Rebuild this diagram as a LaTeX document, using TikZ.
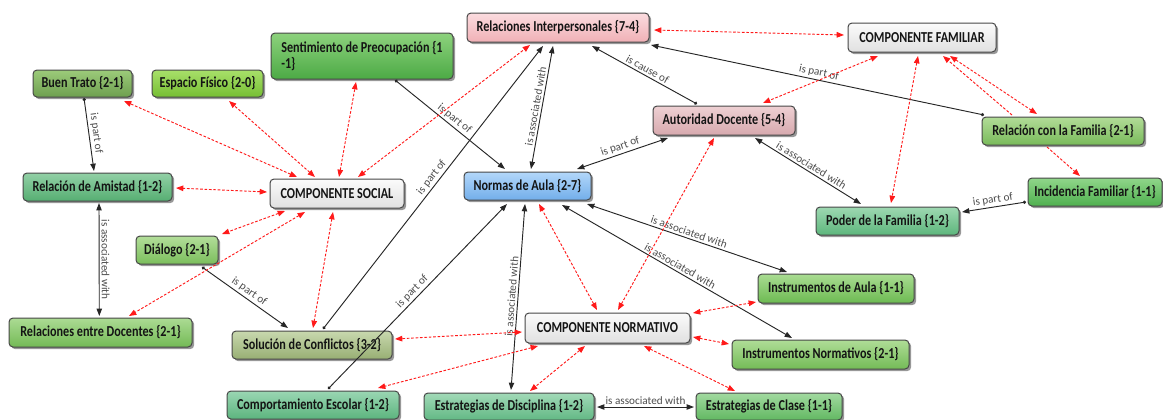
\documentclass[tikz,border=0pt]{standalone}
\usepackage{fontspec}
\setmainfont{Carlito}
\newfontfamily\boxfont{Carlito}[FakeStretch=0.8]
\usetikzlibrary{arrows.meta,calc,shadows}

% box fills: top / bottom of each gradient
\definecolor{relT}{HTML}{FBDCDF}\definecolor{relB}{HTML}{F0B0B6}
\definecolor{autT}{HTML}{EED0D3}\definecolor{autB}{HTML}{D7A9AE}
\definecolor{cmpT}{HTML}{FBFBFB}\definecolor{cmpB}{HTML}{E0E0E0}
\definecolor{norT}{HTML}{B3D7FA}\definecolor{norB}{HTML}{72AEEA}
\definecolor{bueT}{HTML}{9CCB7A}\definecolor{bueB}{HTML}{6E9F4F}
\definecolor{espT}{HTML}{A8E06A}\definecolor{espB}{HTML}{76BE33}
\definecolor{senT}{HTML}{8DD27D}\definecolor{senB}{HTML}{4CAA45}
\definecolor{rcfT}{HTML}{B2DC98}\definecolor{rcfB}{HTML}{79BA5A}
\definecolor{amiT}{HTML}{92D0A6}\definecolor{amiB}{HTML}{56AE72}
\definecolor{incT}{HTML}{90D68A}\definecolor{incB}{HTML}{4FB04F}
\definecolor{podT}{HTML}{9ED8B2}\definecolor{podB}{HTML}{5DB67C}
\definecolor{diaT}{HTML}{B3DE9A}\definecolor{diaB}{HTML}{7BBE5C}
\definecolor{insT}{HTML}{A9DC92}\definecolor{insB}{HTML}{6DBA52}
\definecolor{rdoT}{HTML}{ACDB94}\definecolor{rdoB}{HTML}{73BA55}
\definecolor{solT}{HTML}{C8D8AE}\definecolor{solB}{HTML}{98AF74}
\definecolor{innT}{HTML}{AFDD97}\definecolor{innB}{HTML}{74BB57}
\definecolor{comT}{HTML}{9AD6B3}\definecolor{comB}{HTML}{5CB47E}
\definecolor{ediT}{HTML}{A2DAB8}\definecolor{ediB}{HTML}{62B884}
\definecolor{eclT}{HTML}{A2DAA0}\definecolor{eclB}{HTML}{62B862}
\definecolor{lblgray}{HTML}{4D4D4D}
\definecolor{linkred}{HTML}{FF1A1A}

\begin{document}
\begin{tikzpicture}[x=0.75pt,y=-0.75pt,
  box/.style={draw=black!72, line width=0.75pt, rounded corners=3pt, inner sep=2pt,
    font=\boxfont\bfseries\fontsize{11.4}{12}\selectfont, text=black!92,
    drop shadow={shadow xshift=1.6pt, shadow yshift=-1.6pt, opacity=0.5, fill=black!80}},
  fillc/.style 2 args={top color=#1, bottom color=#2},
  sz/.style 2 args={minimum width=#1*0.75pt, minimum height=#2*0.75pt},
  lbl/.style={font=\fontsize{8.4}{9}\selectfont, text=lblgray, inner sep=1.5pt, sloped},
  part/.style={draw=black!85, line width=0.7pt,
    arrows={Circle[length=2.4pt]-Triangle[length=5.5pt,width=4pt]}},
  assoc/.style={draw=black!85, line width=0.7pt,
    arrows={Triangle[length=5.5pt,width=4pt]-Triangle[length=5.5pt,width=4pt]}},
  rdd/.style={draw=linkred, line width=0.7pt, dash pattern=on 2pt off 1.3pt,
    arrows={Triangle[length=5.5pt,width=4.2pt]-Triangle[length=5.5pt,width=4.2pt]}},
  rd1/.style={draw=linkred, line width=0.7pt, dash pattern=on 2pt off 1.3pt,
    arrows={-Triangle[length=5.5pt,width=4.2pt]}}
]
\fill[white] (0,0) rectangle (1163,419);
\useasboundingbox (0,0) rectangle (1163,419);

% ---- concept boxes ----
\node[box, fillc={relT}{relB}, sz={182}{29}] (rel) at (558,27.5) {Relaciones Interpersonales \{7-4\}};
\node[box, fillc={cmpT}{cmpB}, sz={148}{29}] (fam) at (922,37.5) {COMPONENTE FAMILIAR};
\node[box, fillc={senT}{senB}, sz={182}{46}, align=left] (sen) at (362,56) {Sentimiento de Preocupación \{1\\-1\}};
\node[box, fillc={bueT}{bueB}, sz={99}{27}] (bue) at (82.5,83.5) {Buen Trato \{2-1\}};
\node[box, fillc={espT}{espB}, sz={111}{27}] (esp) at (207.5,83.5) {Espacio Físico \{2-0\}};
\node[box, fillc={autT}{autB}, sz={142}{29}] (aut) at (724,120.5) {Autoridad Docente \{5-4\}};
\node[box, fillc={rcfT}{rcfB}, sz={162}{28}] (rcf) at (1063,131) {Relación con la Familia \{2-1\}};
\node[box, fillc={amiT}{amiB}, sz={149}{28}] (ami) at (97.5,187) {Relación de Amistad \{1-2\}};
\node[box, fillc={cmpT}{cmpB}, sz={134}{29}] (soc) at (337,193.5) {COMPONENTE SOCIAL};
\node[box, fillc={norT}{norB}, sz={127}{28}] (nor) at (527.5,186) {Normas de Aula \{2-7\}};
\node[box, fillc={incT}{incB}, sz={134}{28}] (inc) at (1095,192) {Incidencia Familiar \{1-1\}};
\node[box, fillc={podT}{podB}, sz={143}{28}] (pod) at (887.5,221) {Poder de la Familia \{1-2\}};
\node[box, fillc={diaT}{diaB}, sz={82}{28}] (dia) at (177,250) {Diálogo \{2-1\}};
\node[box, fillc={insT}{insB}, sz={156}{29}] (ins) at (836,288.5) {Instrumentos de Aula \{1-1\}};
\node[box, fillc={rdoT}{rdoB}, sz={183}{29}] (rdo) at (100.5,332.5) {Relaciones entre Docentes \{2-1\}};
\node[box, fillc={solT}{solB}, sz={160}{28}] (sol) at (312,345) {Solución de Conflictos \{3-2\}};
\node[box, fillc={cmpT}{cmpB}, sz={165}{30}] (cno) at (607.5,328) {COMPONENTE NORMATIVO};
\node[box, fillc={innT}{innB}, sz={177}{29}] (inn) at (820.5,354.5) {Instrumentos Normativos \{2-1\}};
\node[box, fillc={comT}{comB}, sz={172}{28}] (com) at (313,405) {Comportamiento Escolar \{1-2\}};
\node[box, fillc={ediT}{ediB}, sz={170}{27}] (edi) at (509,406.5) {Estrategias de Disciplina \{1-2\}};
\node[box, fillc={eclT}{eclB}, sz={146}{27}] (ecl) at (769,406.5) {Estrategias de Clase \{1-1\}};

% ---- labelled links ----
\draw[part] ($(bue)+(1.5,14.5)$) -- node[lbl, above] {is part of} ($(ami)+(-3.5,-16)$);
\draw[assoc] ($(ami)+(1.5,16)$) -- node[lbl, above] {is associated with} ($(rdo)+(-1.2,-16.5)$);
\draw[part] ($(sen)+(33,24)$) -- node[lbl, above] {is part of} ($(nor)+(-22.5,-17)$);
\draw[part] ($(sol)+(11,-16)$) -- node[lbl, above, pos=0.52] {is part of} ($(rel)+(-15,18.5)$);
\draw[part] ($(com)+(15,-16)$) -- node[lbl, above] {is part of} ($(nor)+(-20.5,18)$);
\draw[assoc] ($(nor)+(3.5,-17)$) -- node[lbl, above] {is associated with} ($(rel)+(-5,18.5)$);
\draw[part] ($(aut)+(-27,-16.5)$) -- node[lbl, above] {is cause of} ($(rel)+(34,18.5)$);
\draw[part] ($(rcf)+(-79,-16)$) -- node[lbl, above] {is part of} ($(rel)+(93,17.5)$);
\draw[assoc] ($(nor)+(49.5,-17)$) -- node[lbl, above] {is part of} ($(aut)+(-56,17.5)$);
\draw[assoc] ($(aut)+(31,17.5)$) -- node[lbl, above] {is associated with} ($(pod)+(-26.5,-17)$);
\draw[part] ($(inc)+(-69,10)$) -- node[lbl, above] {is part of} ($(pod)+(74.5,-9)$);
\draw[part] ($(dia)+(25,17)$) -- node[lbl, above] {is part of} ($(sol)+(-24,-17)$);
\draw[assoc] ($(nor)+(59.5,18)$) -- node[lbl, above] {is associated with} ($(ins)+(-49,-16.5)$);
\draw[assoc] ($(nor)+(34.5,19)$) -- node[lbl, above] {is associated with} ($(inn)+(-28.5,-16.5)$);
\draw[assoc] ($(edi)+(2,-16.5)$) -- node[lbl, above] {is associated with} ($(nor)+(-2.5,18)$);
\draw[assoc] ($(edi)+(88,0.5)$) -- node[lbl, above] {is associated with} ($(ecl)+(-75,0.5)$);

% ---- component links ----
\draw[rdd] ($(soc)+(-40,-16.5)$) -- ($(bue)+(41.5,17.5)$);
\draw[rdd] ($(soc)+(-22,-16.5)$) -- ($(esp)+(21.5,17.5)$);
\draw[rdd] ($(soc)+(2,-16.5)$) -- ($(sen)+(-6,26)$);
\draw[rdd] ($(soc)+(21,-16.5)$) -- ($(rel)+(-28,17.5)$);
\draw[rdd] ($(soc)+(-70,-1.5)$) -- ($(ami)+(78.5,1)$);
\draw[rdd] ($(soc)+(-52,17.5)$) -- ($(dia)+(45,-16)$);
\draw[rdd] ($(soc)+(-32,18.5)$) -- ($(rdo)+(28.5,-16.5)$);
\draw[rdd] ($(soc)+(-4,18.5)$) -- ($(sol)+(1,-17)$);
\draw[rdd] ($(cno)+(-85.5,4)$) -- ($(sol)+(83,-6)$);
\draw[rdd] ($(cno)+(-69.5,18)$) -- ($(com)+(65,-17)$);
\draw[rdd] ($(cno)+(-22.5,18)$) -- ($(edi)+(21,-15.5)$);
\draw[rdd] ($(cno)+(36.5,18)$) -- ($(ecl)+(-34,-15.5)$);
\draw[rdd] ($(cno)+(85.5,9)$) -- ($(inn)+(-91.5,-10.5)$);
\draw[rdd] ($(cno)+(85.5,-15)$) -- ($(ins)+(-80,13.5)$);
\draw[rdd] ($(cno)+(-10.5,-18)$) -- ($(nor)+(11.5,18)$);
\draw[rdd] ($(cno)+(10.5,-18)$) -- ($(aut)+(-10,17.5)$);
\draw[rdd] ($(fam)+(-78,-2.5)$) -- ($(rel)+(96,2.5)$);
\draw[rdd] ($(fam)+(-44,18.5)$) -- ($(aut)+(39,-17.5)$);
\draw[rdd] ($(fam)+(-4,18.5)$) -- ($(pod)+(3.5,-18)$);
\draw[rdd] ($(fam)+(28,18.5)$) -- ($(rcf)+(-26,-17)$);
\draw[rd1] ($(rcf)+(-51,-16)$) -- ($(fam)+(21,18.5)$);
\draw[rd1] ($(rcf)+(-16,16)$) -- ($(inc)+(-15,-16)$);
\end{tikzpicture}
\end{document}
